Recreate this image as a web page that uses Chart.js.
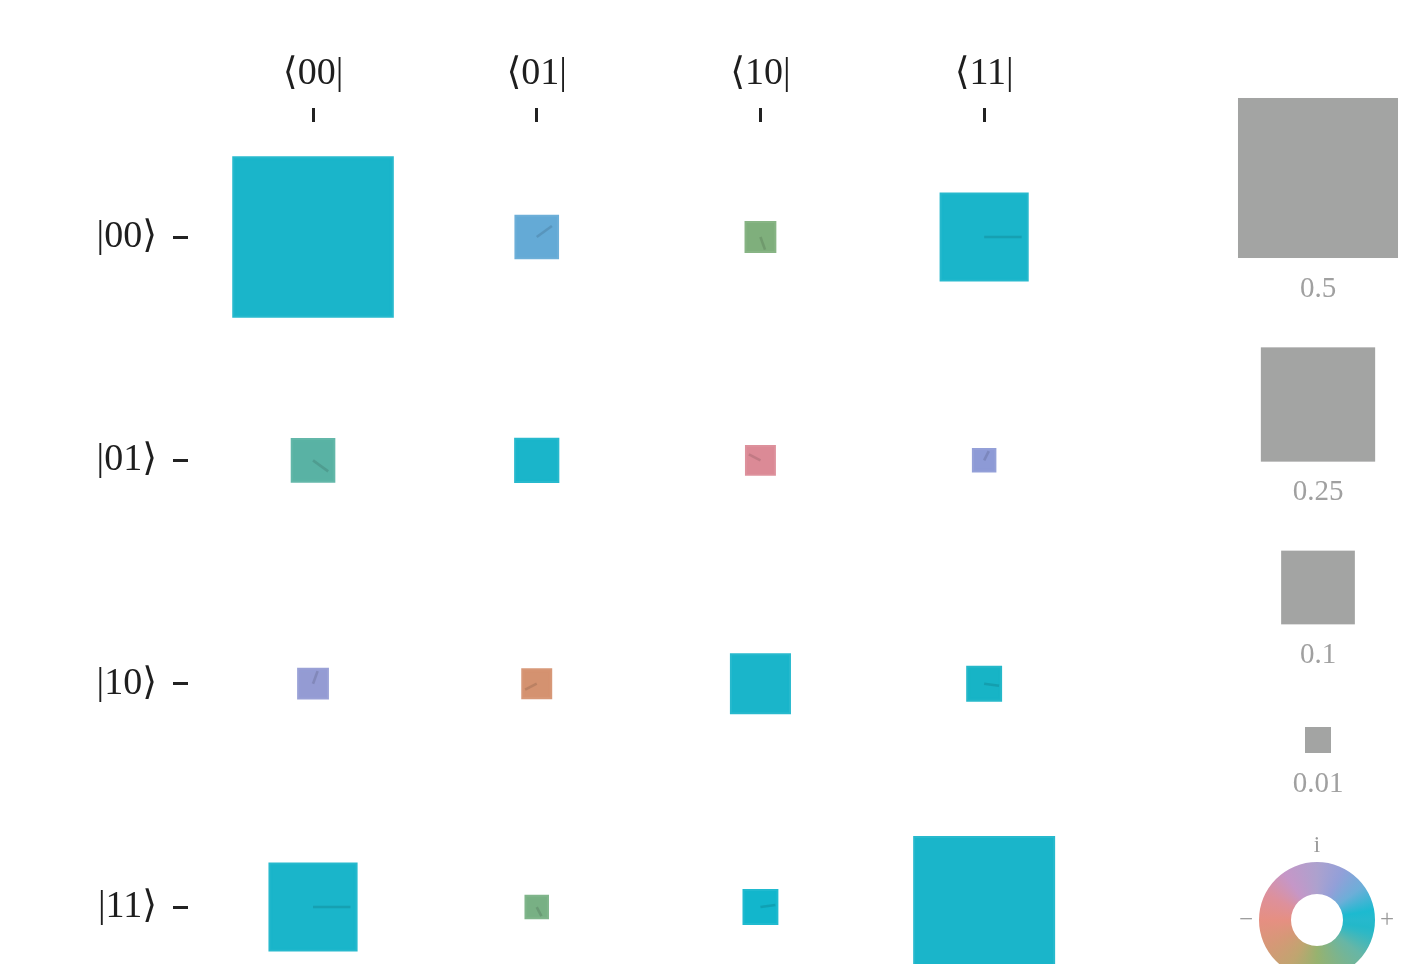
<!DOCTYPE html>
<html>
<head>
<meta charset="utf-8">
<title>Density matrix</title>
<script src="https://cdn.jsdelivr.net/npm/chart.js@4.4.0/dist/chart.umd.min.js"></script>
<style>
  html, body { margin: 0; padding: 0; background: #fff; overflow: hidden; }
  #wrap { width: 1419px; height: 964px; position: relative; }
</style>
</head>
<body>
<div id="wrap"><canvas id="rho"></canvas></div>
<script>
const kets = ['|00⟩', '|01⟩', '|10⟩', '|11⟩'];
const bras = ['⟨00|', '⟨01|', '⟨10|', '⟨11|'];

// |rho_ij| (row = ket, column = bra)
const magnitude = [
  [0.510, 0.034, 0.016, 0.149],
  [0.034, 0.035, 0.015, 0.0087],
  [0.016, 0.015, 0.067, 0.021],
  [0.149, 0.0087, 0.021, 0.391],
];
// arg(rho_ij) in degrees
const phase = [
  [0, 36, -70, 0],
  [-36, 0, 153, 63],
  [70, -153, 0, -8],
  [0, -63, 8, 0],
];

const legendValues = [0.5, 0.25, 0.1, 0.01];
const legendLabels = ['0.5', '0.25', '0.1', '0.01'];

const SERIF = "'Liberation Serif', 'DejaVu Serif', serif";
const SIDE_SCALE = 0.987;  // square side for |rho| = 1, in x units
const EDGE = 3.9;          // rim stroke added around every square, px

// phase colour wheel: [degrees, rgb]
const wheel = [
  [0, [26, 181, 202]],
  [10, [16, 182, 205]],
  [36, [100, 170, 214]],
  [63, [141, 154, 214]],
  [90, [168, 156, 203]],
  [125, [194, 145, 196]],
  [153, [219, 138, 150]],
  [180, [228, 137, 123]],
  [210, [210, 147, 111]],
  [240, [188, 160, 104]],
  [270, [145, 174, 103]],
  [292, [125, 175, 126]],
  [322, [94, 178, 161]],
  [345, [35, 180, 194]],
  [352, [23, 180, 198]],
  [360, [26, 181, 202]],
];

function phaseRGB(deg) {
  const d = ((deg % 360) + 360) % 360;
  for (let k = 1; k < wheel.length; k++) {
    const [d0, c0] = wheel[k - 1];
    const [d1, c1] = wheel[k];
    if (d <= d1) {
      const t = (d - d0) / (d1 - d0);
      return c0.map((c, n) => Math.round(c + (c1[n] - c) * t));
    }
  }
  return wheel[0][1];
}

function unitPx(chart) {
  const s = chart.scales.x;
  return s.getPixelForValue(1) - s.getPixelForValue(0);
}
// filled side, without the rim
function sidePx(chart, v) {
  return SIDE_SCALE * unitPx(chart) * Math.sqrt(v);
}

const points = [];
kets.forEach((k, i) => {
  bras.forEach((b, j) => {
    points.push({ x: j, y: i, mag: magnitude[i][j], arg: phase[i][j] });
  });
});

// short stroke from the centre of each off-diagonal square pointing along its phase
const phaseTicks = {
  id: 'phaseTicks',
  afterDatasetsDraw(chart) {
    const ctx = chart.ctx;
    const meta = chart.getDatasetMeta(0);
    ctx.save();
    ctx.lineCap = 'butt';
    ctx.lineWidth = 2.6;
    meta.data.forEach((el, n) => {
      const p = points[n];
      if (p.x === p.y) return;
      const len = 0.42 * (sidePx(chart, p.mag) + EDGE);
      const a = p.arg * Math.PI / 180;
      const rgb = phaseRGB(p.arg).map(c => Math.round(c * 0.86));
      ctx.strokeStyle = `rgba(${rgb.join(',')},0.85)`;
      ctx.beginPath();
      ctx.moveTo(el.x, el.y);
      ctx.lineTo(el.x + len * Math.cos(a), el.y - len * Math.sin(a));
      ctx.stroke();
    });
    ctx.restore();
  }
};

// size key and colour wheel on the right
const sizeKey = {
  id: 'sizeKey',
  afterDraw(chart) {
    const ctx = chart.ctx;
    const cx = chart.chartArea.right + 222;
    const centersY = [178, 404.5, 587.5, 740];
    ctx.save();
    ctx.font = `29px ${SERIF}`;
    ctx.textAlign = 'center';
    ctx.textBaseline = 'middle';
    legendValues.forEach((v, k) => {
      const s = sidePx(chart, v) + EDGE;
      const cy = centersY[k];
      ctx.fillStyle = '#a3a4a3';
      ctx.fillRect(cx - s / 2, cy - s / 2, s, s);
      ctx.fillStyle = '#a0a0a0';
      ctx.fillText(legendLabels[k], cx, cy + s / 2 + 31);
    });

    const wx = cx - 1, wy = 920;
    const g = ctx.createConicGradient(0, wx, wy);
    wheel.forEach(([d, c]) => g.addColorStop((360 - d) / 360, `rgb(${c.join(',')})`));
    ctx.globalAlpha = 0.95;
    ctx.fillStyle = g;
    ctx.beginPath();
    ctx.arc(wx, wy, 58, 0, Math.PI * 2);
    ctx.arc(wx, wy, 26, 0, Math.PI * 2, true);
    ctx.fill();
    ctx.globalAlpha = 1;

    ctx.fillStyle = '#9a9a9a';
    ctx.font = `23px ${SERIF}`;
    ctx.fillText('i', wx, 846);
    ctx.font = `25px ${SERIF}`;
    ctx.fillText('−', wx - 71, 920);
    ctx.fillText('+', wx + 70, 920);
    ctx.restore();
  }
};

const tickFont = { family: SERIF, size: 38 };

new Chart(document.getElementById('rho'), {
  type: 'scatter',
  data: {
    datasets: [{
      data: points,
      pointStyle: 'rect',
      pointRadius: (c) => {
        if (!c.raw || !c.chart.scales.x) return 0;
        return sidePx(c.chart, c.raw.mag) / Math.SQRT2;
      },
      pointBackgroundColor: (c) => c.raw ? `rgb(${phaseRGB(c.raw.arg).join(',')})` : '#000',
      pointBorderColor: (c) => c.raw ? `rgba(${phaseRGB(c.raw.arg).join(',')},0.94)` : '#000',
      pointBorderWidth: EDGE,
    }]
  },
  options: {
    responsive: true,
    maintainAspectRatio: false,
    animation: false,
    events: [],
    layout: { padding: { left: 0, top: 0, right: 323, bottom: 0 } },
    plugins: { legend: { display: false }, tooltip: { enabled: false } },
    scales: {
      x: {
        type: 'linear',
        position: 'top',
        min: -0.5589,
        max: 3.5,
        afterBuildTicks: (s) => { s.ticks = bras.map((b, j) => ({ value: j })); },
        afterFit: (s) => { s.height = 122; s.paddingLeft = 0; s.paddingRight = 0; },
        ticks: {
          callback: (v) => bras[Math.round(v)],
          font: tickFont,
          color: '#1e1e1e',
          padding: 11,
          maxRotation: 0,
          autoSkip: false,
        },
        grid: { drawOnChartArea: false, tickLength: 14, tickWidth: 3, tickColor: '#222' },
        border: { display: false },
      },
      y: {
        type: 'linear',
        reverse: true,
        min: -0.515,
        max: 3.255,
        afterBuildTicks: (s) => { s.ticks = kets.map((k, i) => ({ value: i })); },
        afterFit: (s) => { s.width = 188; s.paddingTop = 0; s.paddingBottom = 0; },
        ticks: {
          callback: (v) => kets[Math.round(v)],
          font: tickFont,
          color: '#1e1e1e',
          padding: 16,
          autoSkip: false,
        },
        grid: { drawOnChartArea: false, tickLength: 15, tickWidth: 3, tickColor: '#222' },
        border: { display: false },
      }
    }
  },
  plugins: [phaseTicks, sizeKey]
});
</script>
</body>
</html>
